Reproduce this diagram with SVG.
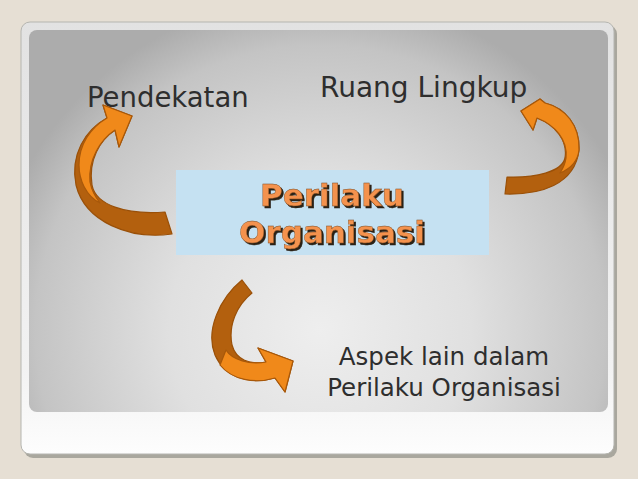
<svg xmlns="http://www.w3.org/2000/svg" width="638" height="479" viewBox="0 0 638 479">
<defs>
<radialGradient id="panelGrad" gradientUnits="userSpaceOnUse" cx="320" cy="330" r="335">
<stop offset="0" stop-color="#eeeeee"/>
<stop offset="0.45" stop-color="#e0e0e0"/>
<stop offset="0.85" stop-color="#c4c4c4"/>
<stop offset="1" stop-color="#acacac"/>
</radialGradient>
<linearGradient id="cardGrad" x1="0" y1="0" x2="0" y2="1">
<stop offset="0" stop-color="#e2e2e2"/>
<stop offset="0.8" stop-color="#f2f2f2"/>
<stop offset="1" stop-color="#fdfdfd"/>
</linearGradient>
<filter id="txtShadow" x="-10%" y="-20%" width="130%" height="150%">
<feDropShadow dx="2" dy="2" stdDeviation="0.3" flood-color="#2a2018" flood-opacity="1"/>
</filter>
<style>
.lbl{font-family:"DejaVu Sans","Verdana",sans-serif;fill:#2e2e2e;}
.ctr{font-family:"DejaVu Sans","Verdana",sans-serif;font-weight:bold;font-size:31px;text-anchor:middle;fill:#f4924e;stroke:#7a4a20;stroke-width:0.4;filter:url(#txtShadow);}
.dark{fill:#b3600e;stroke:#9a5008;stroke-width:1.2;stroke-linejoin:round;}
.front{fill:#f0891a;stroke:#a8580a;stroke-width:1.2;stroke-linejoin:round;}
</style>
</defs>
<rect width="638" height="479" fill="#e6dfd4"/>
<g id="card">
<rect x="24" y="25" width="593" height="433" rx="9" fill="#a9a79e"/>
<rect x="21" y="22" width="593" height="432" rx="9" fill="url(#cardGrad)" stroke="#b5b5b0" stroke-width="1"/>
<rect x="29" y="30" width="579" height="382" rx="8" fill="url(#panelGrad)"/>
</g>
<g id="node-center">
<rect x="176" y="170" width="313" height="85" fill="#c5e1f2"/>
<text class="ctr" x="332" y="206">Perilaku</text>
<text class="ctr" x="332" y="243">Organisasi</text>
</g>
<g id="node-pendekatan">
<text class="lbl" x="87" y="107" font-size="27.5">Pendekatan</text>
</g>
<g id="node-ruang">
<text class="lbl" x="320" y="97" font-size="28">Ruang Lingkup</text>
</g>
<g id="node-aspek">
<text class="lbl" x="444" y="365" font-size="24.5" text-anchor="middle">Aspek lain dalam</text>
<text class="lbl" x="444" y="396" font-size="24.5" text-anchor="middle">Perilaku Organisasi</text>
</g>
<g id="connectors">
<g id="arrow-left">
<path class="dark" d="M172,234 C130,240 85,222 76,185 C70,155 85,130 107,118 L103,105 L132,116 L119,147 L115,130 C100,140 88,160 92,185 C96,205 125,215 165,212 Z"/>
<path class="front" d="M107,118 L103,105 L132,116 L119,147 L115,130 C100,140 88,160 90,182 C92,192 96,198 100,203 C86,196 79,180 79,165 C79,145 90,128 107,118 Z"/>
</g>
<g id="arrow-right">
<path class="dark" d="M505,194 C540,195 575,185 579,150 C580,125 565,108 545,103 L540,99 L521,111 L533,130 L537,118 C555,125 568,140 565,158 C562,172 535,178 507,177 Z"/>
<path class="front" d="M545,103 L540,99 L521,111 L533,130 L537,118 C555,125 568,140 566,158 C565,165 562,170 560,173 C572,168 578,160 579,150 C580,125 565,108 545,103 Z"/>
</g>
<g id="arrow-bottom">
<path class="dark" d="M242,280 L252,293 C237,305 228,325 232,345 C236,360 250,365 266,362 L258,348 L293,361 L285,392 L275,378 C250,385 225,378 215,355 C205,330 220,298 242,280 Z"/>
<path class="front" d="M226,350 C232,360 250,365 266,362 L258,348 L293,361 L285,392 L275,378 C255,384 232,380 220,365 Z"/>
</g>
</g>
</svg>
